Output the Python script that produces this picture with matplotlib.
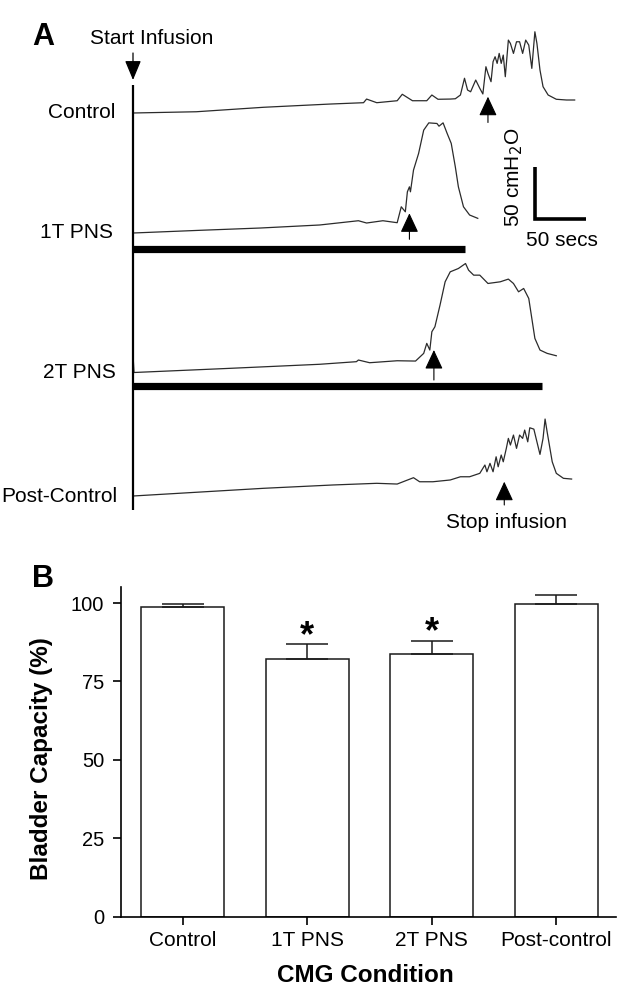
import matplotlib
matplotlib.use("Agg")
import matplotlib.pyplot as plt
import numpy as np

plt.rcParams.update({
    "font.family": ["Liberation Sans", "DejaVu Sans"],
    "font.size": 15,
    "axes.linewidth": 1.2,
})

# %% Panel A data: CMG traces, time (s) from start of infusion, pressure (cmH2O) above start
ctrl_t = [0, 62, 128, 193, 226, 229, 239, 259, 264, 274, 288, 293, 299, 311, 316, 321, 325,
          328, 331, 336, 340, 343, 346, 348, 351, 353, 355, 357, 359, 361, 363, 365, 368,
          370, 373, 376, 379, 382, 385, 388, 391, 394, 396, 399, 402, 407, 415, 425, 433]
ctrl_p = [0, 1.2, 5.5, 8.6, 9.9, 13.4, 9.9, 11.8, 18.0, 11.8, 11.8, 17.3, 13.2, 13.4, 13.7,
          17.3, 33.4, 22.1, 20.4, 31.7, 23.7, 18.3, 44.5, 38.1, 30.1, 49.3, 54.1, 47.7, 57.3,
          47.7, 55.7, 34.9, 70.1, 66.9, 57.3, 68.5, 68.5, 57.3, 70.1, 65.3, 42.9, 78.1, 66.9,
          41.3, 25.3, 17.3, 13.2, 12.5, 12.5]

pns1_t = [0, 66, 125, 183, 221, 229, 245, 259, 263, 267, 269, 271, 272, 275, 280, 285, 290,
          298, 300, 304, 308, 312, 316, 319, 324, 330, 338]
pns1_p = [0, 2.6, 4.8, 7.7, 11.8, 9.6, 11.8, 9.9, 25.2, 20.4, 39.6, 44.4, 39.6, 60.5, 76.5,
          98.9, 105.9, 105.3, 102.7, 105.9, 95.7, 86.1, 63.6, 44.4, 25.2, 17.3, 14.1]

pns2_t = [0, 1, 95, 183, 219, 221, 232, 259, 277, 285, 288, 291, 293, 296, 301, 306, 311,
          319, 326, 329, 334, 340, 348, 360, 368, 373, 378, 383, 388, 391, 394, 399, 406, 415]
pns2_p = [17.0, 0, 4.0, 7.9, 10.4, 12.0, 9.4, 11.3, 11.0, 18.4, 28.0, 21.6, 39.2, 44.0, 64.8,
          87.2, 96.8, 100.0, 104.8, 98.4, 93.6, 93.6, 85.6, 87.2, 89.8, 85.6, 77.6, 80.8, 71.2,
          52.0, 32.8, 21.6, 18.4, 16.1]

post_t = [0, 128, 196, 239, 259, 275, 281, 294, 311, 321, 330, 340, 345, 347, 350, 353, 356,
          358, 361, 363, 366, 368, 370, 373, 376, 379, 382, 384, 387, 389, 393, 396, 399, 402,
          404, 406, 411, 415, 422, 430]
post_p = [0, 7.4, 10.6, 12.2, 11.5, 17.6, 13.7, 13.7, 15.4, 18.5, 18.5, 21.8, 29.8, 23.3,
          31.4, 23.3, 37.7, 28.1, 39.4, 32.9, 45.8, 55.4, 49.0, 58.6, 45.8, 58.6, 55.4, 63.4,
          52.1, 65.6, 64.3, 52.1, 40.0, 55.4, 74.0, 61.7, 32.9, 21.8, 17.0, 16.3]

trace_labels = ["Control", "1T PNS", "2T PNS", "Post-Control"]
stop_infusion_t = [348, 271, 295, 364]
stim_duration = {"1T PNS": 325, "2T PNS": 401}
SCALE_S, SCALE_CM = 50, 50

# %% Panel B data: bladder capacity
conditions = ["Control", "1T PNS", "2T PNS", "Post-control"]
capacity = [98.8, 82.1, 83.6, 99.6]
sem = [1.0, 4.7, 4.3, 2.9]
significant = [False, True, True, False]

# %% Layout
W, H = 617, 997
PX_PER_S, PX_PER_CM = 1.02, 1.04
A_BOTTOM = 545          # pixel row where panel A area ends
T0_PX = 133             # pixel column of infusion start


def yA(py):
    # pixel row -> stacked panel A coordinate
    return (A_BOTTOM - py) / PX_PER_CM


def fpos(px, py):
    return px / W, 1 - py / H


fig = plt.figure(figsize=(W / 100, H / 100), dpi=100)

axA = fig.add_axes([0, 1 - A_BOTTOM / H, 1, A_BOTTOM / H])
axA.set_xlim(-T0_PX / PX_PER_S, (W - T0_PX) / PX_PER_S)
axA.set_ylim(0, A_BOTTOM / PX_PER_CM)
axA.axis("off")

trace_rows = [113, 233, 372.5, 496]
arrow_px = [(96.7, 122.5), (213.3, 239.3), (350, 380), (481.7, 505)]
traces = [(ctrl_t, ctrl_p), (pns1_t, pns1_p), (pns2_t, pns2_p), (post_t, post_p)]
label_right = [115, 113, 116, 117.5]

for (t, p), row, lab, lr, stop, (a_top, a_bot) in zip(
        traces, trace_rows, trace_labels, label_right, stop_infusion_t, arrow_px):
    off = yA(row)
    axA.plot(t, off + np.asarray(p), color="#2b2b2b", lw=0.9)
    fig.text(*fpos(lr, row), lab, ha="right", va="center", fontsize=15)
    axA.annotate("", xy=(stop, yA(a_top)), xytext=(stop, yA(a_bot)),
                 arrowprops=dict(arrowstyle="-|>,head_length=0.6,head_width=0.28",
                                 color="k", lw=0.8, mutation_scale=20,
                                 shrinkA=0, shrinkB=0))

# infusion start line and arrow
axA.plot([0, 0], [yA(85), yA(510)], color="k", lw=1.6, solid_capstyle="butt")
axA.annotate("", xy=(0, yA(80)), xytext=(0, yA(53)),
             arrowprops=dict(arrowstyle="-|>,head_length=0.6,head_width=0.25",
                             color="k", lw=0.9, mutation_scale=20, shrinkA=0, shrinkB=0))

# stimulation bars
for row, key in [(248.7, "1T PNS"), (386.3, "2T PNS")]:
    axA.plot([0, stim_duration[key]], [yA(row), yA(row)], color="k", lw=5.2,
             solid_capstyle="butt")

# scale bar
sb_t = (535 - T0_PX) / PX_PER_S
sb_y = yA(219)
axA.plot([sb_t, sb_t, sb_t + SCALE_S], [sb_y + SCALE_CM, sb_y, sb_y], color="k", lw=2.6,
         solid_joinstyle="miter", solid_capstyle="butt")
fig.text(*fpos(514, 177), "50 cmH$_2$O", rotation=90, ha="center", va="center", fontsize=15)
fig.text(*fpos(562, 240), "50 secs", ha="center", va="center", fontsize=15)
fig.text(*fpos(507, 522), "Stop infusion", ha="center", va="center", fontsize=15)
fig.text(*fpos(152, 39), "Start Infusion", ha="center", va="center", fontsize=15)
fig.text(*fpos(43, 37), "A", ha="center", va="center", fontsize=22, fontweight="bold")

# %% Panel B
axB = fig.add_axes([120.7 / W, 1 - 916.7 / H, (616 - 120.7) / W, (916.7 - 586.7) / H])
x = np.arange(len(conditions))
axB.bar(x, capacity, width=0.665, color="white", edgecolor="#1a1a1a", linewidth=1.1, zorder=2)
axB.errorbar(x, capacity, yerr=[np.zeros(len(sem)), sem], fmt="none", ecolor="#1a1a1a",
             elinewidth=1.1, capsize=15, capthick=1.1, zorder=3)
for xi, v, e, sig in zip(x, capacity, sem, significant):
    if sig:
        axB.text(xi, v + e + 2.5, "*", ha="center", va="center", fontsize=26,
                 fontweight="bold")

axB.set_xlim(-0.496, 3.478)
axB.set_ylim(0, 105.2)
axB.set_yticks([0, 25, 50, 75, 100])
axB.set_xticks(x)
axB.set_xticklabels(conditions)
axB.spines["top"].set_visible(False)
axB.spines["right"].set_visible(False)
axB.tick_params(axis="both", direction="out", length=6, width=1.2)
axB.tick_params(axis="x", labelsize=15, pad=4)
axB.tick_params(axis="y", labelsize=14.5, pad=6)
axB.set_ylabel("Bladder Capacity (%)", fontsize=17.5, fontweight="bold")
axB.yaxis.set_label_coords(-0.137, 0.478)
axB.set_xlabel("CMG Condition", fontsize=17.5, fontweight="bold")
axB.xaxis.set_label_coords(0.494, -0.143)
fig.text(*fpos(43, 579), "B", ha="center", va="center", fontsize=22, fontweight="bold")

fig.savefig("out.png", dpi=100)
